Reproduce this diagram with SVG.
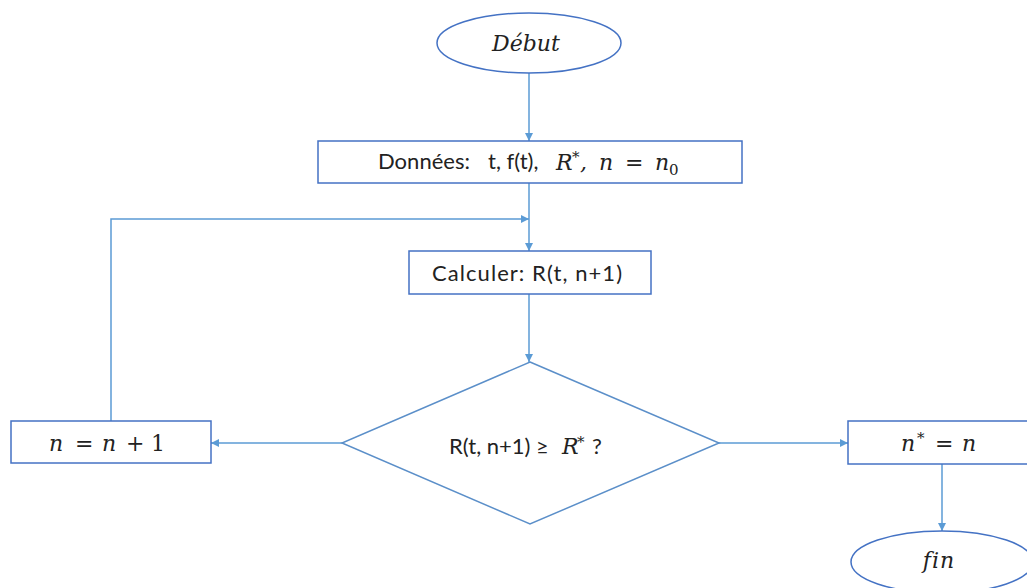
<svg xmlns="http://www.w3.org/2000/svg" width="1027" height="588" viewBox="0 0 1027 588">
  <style>
    .box { fill: #ffffff; stroke: #4472C4; stroke-width: 1.5; }
    .dec { fill: #ffffff; stroke: #5B8FC9; stroke-width: 1.5; }
    .link { fill: none; stroke: #5B9BD5; stroke-width: 1.5; }
    .txt { font-family: Lato, "Liberation Sans", sans-serif; font-size: 22px; fill: #222222; }
    .math { font-family: "DejaVu Serif", "Liberation Serif", serif; font-style: italic; font-size: 22px; fill: #222222; }
    .up { font-style: normal; }
    .sup { font-size: 15px; font-style: normal; }
  </style>
  <defs>
    <marker id="arrow" viewBox="0 0 10 10" refX="10" refY="5" markerWidth="8" markerHeight="8" markerUnits="userSpaceOnUse" orient="auto">
      <path d="M0,0 L10,5 L0,10 z" fill="#5B9BD5"/>
    </marker>
  </defs>

  <rect width="1027" height="588" fill="#ffffff"/>

  <!-- connectors -->
  <g id="connectors">
    <line class="link" x1="529" y1="73" x2="529" y2="141" marker-end="url(#arrow)"/>
    <line class="link" x1="529" y1="183" x2="529" y2="251" marker-end="url(#arrow)"/>
    <polyline class="link" points="111,421 111,219 529,219" marker-end="url(#arrow)"/>
    <line class="link" x1="529" y1="294" x2="529" y2="362" marker-end="url(#arrow)"/>
    <line class="link" x1="342" y1="443" x2="211" y2="443" marker-end="url(#arrow)"/>
    <line class="link" x1="719" y1="443" x2="848" y2="443" marker-end="url(#arrow)"/>
    <line class="link" x1="942" y1="464" x2="942" y2="531" marker-end="url(#arrow)"/>
  </g>

  <!-- start -->
  <g id="debut">
    <ellipse class="box" cx="529" cy="43" rx="92" ry="30"/>
    <text class="math" x="526" y="51" text-anchor="middle" font-size="23">Début</text>
  </g>

  <!-- input data -->
  <g id="donnees">
    <rect class="box" x="318" y="141" width="424" height="42"/>
    <text class="txt" x="378" y="169" font-size="23" textLength="92" lengthAdjust="spacing">Données:</text>
    <text class="txt" x="488" y="169" font-size="23">t, f(t),</text>
    <text class="math" y="170"><tspan x="556">R</tspan><tspan class="sup" x="572" y="162">*</tspan><tspan x="580" y="170">,</tspan><tspan x="599">n</tspan><tspan class="up" x="625">=</tspan><tspan x="655">n</tspan><tspan class="sup" x="669" y="175">0</tspan></text>
  </g>

  <!-- compute step -->
  <g id="calculer">
    <rect class="box" x="409" y="251" width="242" height="43"/>
    <text class="txt" x="432" y="281" font-size="25" textLength="190" lengthAdjust="spacing">Calculer: R(t, n+1)</text>
  </g>

  <!-- test -->
  <g id="test">
    <polygon class="dec" points="530,362 719,443 530,524 342,443"/>
    <text class="txt" x="449" y="454" font-size="20">R(t, n+1) ≥</text>
    <text class="math" y="454" font-size="19"><tspan x="562">R</tspan><tspan class="sup" x="577" y="447" font-size="13">*</tspan></text>
    <text class="txt" x="592" y="454" font-size="20">?</text>
  </g>

  <!-- increment -->
  <g id="increment">
    <rect class="box" x="11" y="421" width="200" height="42"/>
    <text class="math" y="451"><tspan x="49">n</tspan><tspan class="up" x="75">=</tspan><tspan x="102">n</tspan><tspan class="up" x="126">+</tspan><tspan class="up" x="151">1</tspan></text>
  </g>

  <!-- result -->
  <g id="resultat">
    <rect class="box" x="848" y="421" width="190" height="43"/>
    <text class="math" y="451"><tspan x="901">n</tspan><tspan class="sup" x="917" y="443">*</tspan><tspan class="up" x="935" y="451">=</tspan><tspan x="962">n</tspan></text>
  </g>

  <!-- end -->
  <g id="fin">
    <ellipse class="box" cx="942" cy="562" rx="91" ry="31"/>
    <text class="math" x="939" y="568" text-anchor="middle" font-size="24" letter-spacing="1">fin</text>
  </g>
</svg>
